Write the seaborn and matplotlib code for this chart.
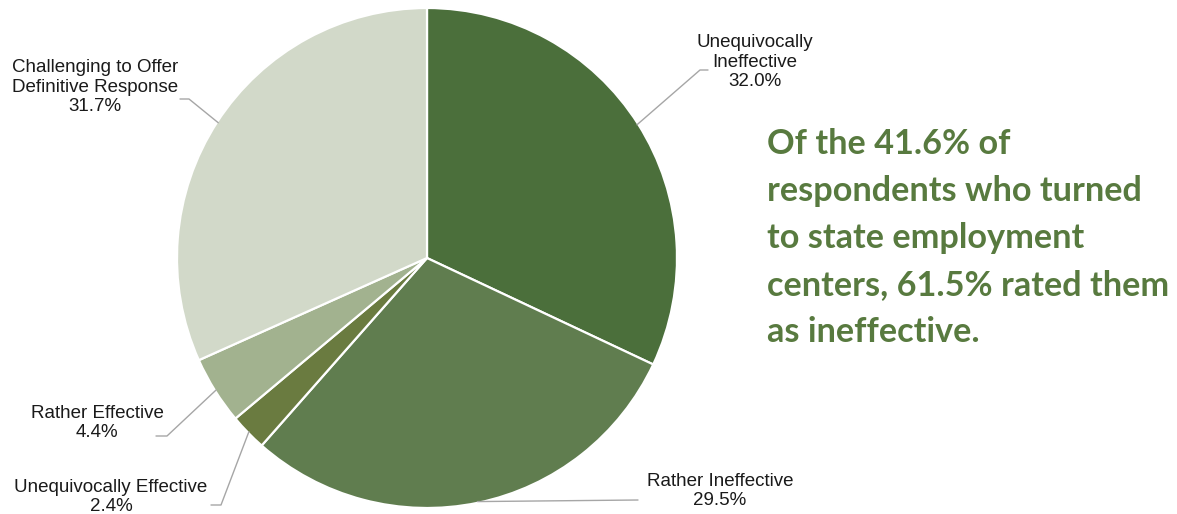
import numpy as np
import matplotlib
matplotlib.use("Agg")
import matplotlib.pyplot as plt
import seaborn as sns

categories = ["Unequivocally\nIneffective", "Rather Ineffective", "Unequivocally Effective",
              "Rather Effective", "Challenging to Offer\nDefinitive Response"]
values = [32.0, 29.5, 2.4, 4.4, 31.7]
colors = ["#4b6f3b", "#607d4f", "#6a7b40", "#a2b28f", "#d2d9c9"]
headline = ("Of the 41.6% of\nrespondents who turned\nto state employment\n"
            "centers, 61.5% rated them\nas ineffective.")

sns.set_theme(style="white")
plt.rcParams["font.family"] = ["Liberation Sans", "DejaVu Sans"]

W, H = 1177, 514
fig = plt.figure(figsize=(W / 100, H / 100), dpi=100)
cx, cy, R = 427, 258, 250
ax = fig.add_axes([(cx - R) / W, (H - cy - R) / H, 2 * R / W, 2 * R / H])
wedges, _ = ax.pie(values, colors=colors, startangle=90, counterclock=False,
                   wedgeprops=dict(edgecolor="white", linewidth=1.6))
ax.set_xlim(-1, 1)
ax.set_ylim(-1, 1)
ax.set_aspect("equal")
ax.axis("off")


def px(x, y):
    return ((x - cx) / R, (cy - y) / R)

# (elbow point, line end, text center) in pixels
layout = [
    ((700, 70), (708, 70), (755, 62)),
    ((638, 500), (638, 500), (720, 491)),
    ((221, 505), (211, 505), (111, 497)),
    ((167, 436), (156, 436), (97, 423)),
    ((189, 99), (180, 99), (95, 87)),
]
pct_labels = [f"{v:.1f}%" for v in values]
for w, cat, pct, (elb, end, txt) in zip(wedges, categories, pct_labels, layout):
    ang = np.deg2rad((w.theta1 + w.theta2) / 2)
    sx, sy = np.cos(ang) * 0.995, np.sin(ang) * 0.995
    ex, ey = px(*elb)
    fx, fy = px(*end)
    ax.plot([sx, ex, fx], [sy, ey, fy], color="#a6a6a6", lw=1.0, clip_on=False)
    tx, ty = px(*txt)
    ax.text(tx, ty, f"{cat}\n{pct}", ha="center", va="center", fontsize=13.5,
            color="#1a1a1a", linespacing=1.2, clip_on=False)

fig.text(767 / W, 1 - 128 / H, headline, ha="left", va="top", fontsize=24.7,
         fontfamily="Lato", fontweight="bold", color="#587a3f", linespacing=1.58)

fig.savefig("out.png", dpi=100, facecolor="white")
